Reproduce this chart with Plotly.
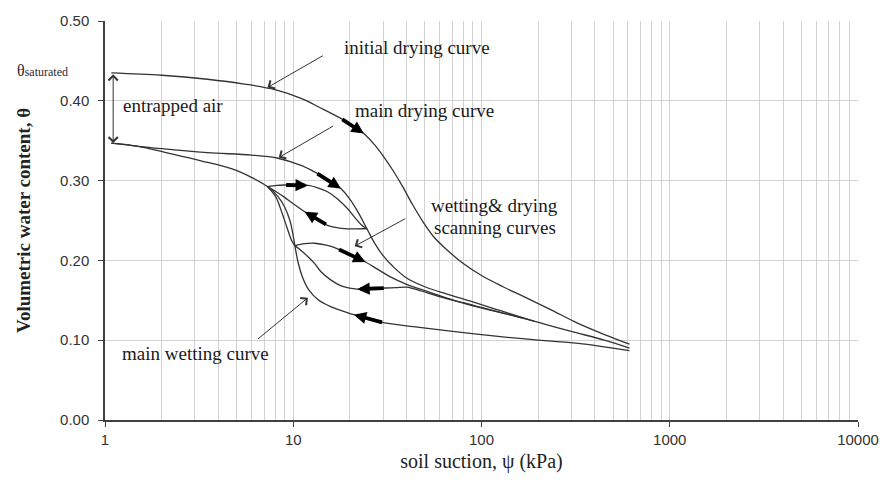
import numpy as np
import plotly.graph_objects as go

# ---------------- data ----------------
x_tickvals = [1, 10, 100, 1000, 10000]
x_ticktext = ["1", "10", "100", "1000", "10000"]
y_tickvals = [0.0, 0.1, 0.2, 0.3, 0.4, 0.5]

initial_drying_x = [1.08, 2, 3.5, 5.5, 8, 11, 14, 17.9, 21, 23.7, 27, 30, 34, 38, 43, 49, 56, 65,
                    80, 100, 130, 170, 230, 326, 450, 611]
initial_drying_y = [0.435, 0.432, 0.427, 0.421, 0.414, 0.403, 0.391, 0.378, 0.368, 0.359, 0.345, 0.331,
                    0.312, 0.293, 0.270, 0.248, 0.229, 0.214, 0.196, 0.181, 0.167, 0.154, 0.139, 0.121,
                    0.107, 0.095]

main_drying_x = [1.08, 2, 3.5, 6, 8.3, 11, 13.2, 15.5, 17.9, 19.8, 21.9, 24.7, 27, 30, 34, 40, 50, 65,
                 90, 130, 190, 300, 450, 611]
main_drying_y = [0.347, 0.340, 0.335, 0.332, 0.328, 0.319, 0.310, 0.301, 0.290, 0.278, 0.262, 0.239,
                 0.222, 0.206, 0.192, 0.178, 0.167, 0.158, 0.148, 0.136, 0.124, 0.111, 0.100, 0.090]

main_wetting_x = [1.08, 1.5, 2.11, 3.2, 4.73, 6, 7.3, 8.3, 9.0, 9.6, 9.9, 10.2, 10.6, 11.2, 12.1,
                  13.5, 15.5, 18, 21, 25, 30, 43.5, 65, 119, 200, 326, 611]
main_wetting_y = [0.347, 0.343, 0.335, 0.325, 0.3146, 0.304, 0.2925, 0.280, 0.267, 0.250, 0.236,
                  0.2185, 0.198, 0.179, 0.163, 0.151, 0.143, 0.137, 0.132, 0.126, 0.122, 0.117, 0.112,
                  0.105, 0.100, 0.096, 0.087]

a_to_b_x = [7.3, 8.1, 8.7, 9.3, 9.8, 10.2]
a_to_b_y = [0.2925, 0.279, 0.260, 0.240, 0.225, 0.2185]

drying_scan_a_x = [7.3, 8.2, 9.0, 10.5, 12, 13.5, 15.2, 17.2, 19.4, 21.2, 22.9, 24.7]
drying_scan_a_y = [0.2925, 0.294, 0.2945, 0.2945, 0.294, 0.291, 0.286, 0.277, 0.265, 0.254, 0.245,
                   0.239]

wetting_scan_a_x = [7.3, 8.0, 9.0, 10, 11.5, 13.2, 15.2, 17, 19.4, 21.5, 24.5]
wetting_scan_a_y = [0.2925, 0.287, 0.279, 0.271, 0.261, 0.252, 0.244, 0.241, 0.2395, 0.2395, 0.240]

drying_scan_b_x = [10.2, 11.5, 13, 15, 17.2, 20, 24.2, 28, 33, 40, 50, 65, 90, 130, 190]
drying_scan_b_y = [0.2185, 0.221, 0.2215, 0.219, 0.2145, 0.207, 0.198, 0.189, 0.179, 0.170, 0.162,
                   0.153, 0.143, 0.134, 0.124]

wetting_scan_b_x = [10.2, 11, 11.8, 13, 14, 15.8, 18.5, 21.9, 26, 30.8, 35, 40, 43, 52, 65, 80, 100,
                    130, 164]
wetting_scan_b_y = [0.2185, 0.2124, 0.206, 0.196, 0.186, 0.1756, 0.167, 0.164, 0.1645, 0.1654, 0.1658,
                    0.1665, 0.165, 0.159, 0.152, 0.147, 0.141, 0.134, 0.128]

curves = {
    "initial_drying": (initial_drying_x, initial_drying_y),
    "main_drying": (main_drying_x, main_drying_y),
    "main_wetting": (main_wetting_x, main_wetting_y),
    "a_to_b": (a_to_b_x, a_to_b_y),
    "drying_scan_a": (drying_scan_a_x, drying_scan_a_y),
    "wetting_scan_a": (wetting_scan_a_x, wetting_scan_a_y),
    "drying_scan_b": (drying_scan_b_x, drying_scan_b_y),
    "wetting_scan_b": (wetting_scan_b_x, wetting_scan_b_y),
}

# direction arrows along curves: (curve, suction at tail, suction at head)
direction_arrows = [
    ("initial_drying", 17.9, 23.7),
    ("main_drying", 13.2, 17.9),
    ("drying_scan_a", 9.0, 11.96),
    ("wetting_scan_a", 15.2, 11.5),
    ("drying_scan_b", 17.2, 24.2),
    ("wetting_scan_b", 30.8, 21.9),
    ("main_wetting", 30.2, 21.0),
]

# ---------------- figure ----------------
SERIF = "Liberation Serif"
SANS = "Liberation Sans"
GRID = "#d2d2d2"
AXIS = "#404040"

fig = go.Figure()
for name, (cx, cy) in curves.items():
    fig.add_trace(go.Scatter(
        x=cx, y=cy, mode="lines", name=name, showlegend=False, hoverinfo="skip",
        line=dict(color="#333333", width=1.3, shape="spline", smoothing=1.0),
    ))


def on_curve(name, s):
    cx, cy = curves[name]
    return float(np.interp(np.log10(s), np.log10(cx), cy))


for name, s_tail, s_head in direction_arrows:
    fig.add_annotation(
        x=np.log10(s_head), y=on_curve(name, s_head),
        ax=np.log10(s_tail), ay=on_curve(name, s_tail),
        xref="x", yref="y", axref="x", ayref="y", text="",
        showarrow=True, arrowhead=2, arrowsize=0.65, arrowwidth=3.8,
        arrowcolor="black", standoff=0,
    )

# thin pointer arrows (head, tail) in data units
pointers = [
    ((7.30, 0.4167), (14.6, 0.4575)),
    ((8.37, 0.3288), (16.6, 0.3695)),
    ((21.2, 0.2178), (40.1, 0.2533)),
    ((11.96, 0.1532), (6.37, 0.0999)),
]
for (hx, hy), (tx, ty) in pointers:
    fig.add_annotation(
        x=np.log10(hx), y=hy, ax=np.log10(tx), ay=ty,
        xref="x", yref="y", axref="x", ayref="y", text="",
        showarrow=True, arrowhead=4, arrowsize=1.8, arrowwidth=1,
        arrowcolor="#333", standoff=0,
    )

# entrapped-air double arrow
fig.add_annotation(
    x=np.log10(1.105), y=0.347, ax=np.log10(1.105), ay=0.435,
    xref="x", yref="y", axref="x", ayref="y", text="",
    showarrow=True, arrowhead=4, startarrowhead=4, arrowside="end+start",
    arrowsize=1.8, startarrowsize=1.8, arrowwidth=1, arrowcolor="#333", standoff=0, startstandoff=0,
)

labels = [
    ("initial drying curve", 45.3, 0.467, "center"),
    ("entrapped air", 1.21, 0.3946, "left"),
    ("main drying curve", 20.8, 0.3873, "left"),
    ("wetting&amp; drying", 117.8, 0.2687, "center"),
    ("scanning curves", 117.8, 0.2418, "center"),
    ("main wetting curve", 1.2, 0.0833, "left"),
]
for txt, lx, ly, anchor in labels:
    fig.add_annotation(
        x=np.log10(lx), y=ly, xref="x", yref="y", text=txt, showarrow=False,
        xanchor=anchor, yanchor="middle",
        font=dict(family=SERIF, size=19, color="#1a1a1a"),
    )

fig.add_annotation(
    x=-0.12, y=0.4375, xref="paper", yref="y", xanchor="left", yanchor="middle",
    text="θ<span style='font-size:12px'>saturated</span>", showarrow=False,
    font=dict(family=SERIF, size=16, color="#2a2a2a"),
)

minor_vals = [m * 10 ** k for k in range(4) for m in range(2, 10)]

fig.update_layout(
    width=891, height=489,
    margin=dict(l=105, r=25, t=12, b=69),
    paper_bgcolor="white", plot_bgcolor="white",
    xaxis=dict(
        type="log", range=[0, 4],
        tickvals=x_tickvals, ticktext=x_ticktext,
        showgrid=True, gridcolor=GRID, gridwidth=1.4,
        showline=True, linecolor=AXIS, linewidth=1.5,
        ticks="outside", ticklen=5, tickcolor=AXIS,
        tickfont=dict(family=SANS, size=15, color="#333"),
        minor=dict(tickvals=minor_vals, showgrid=True, gridcolor=GRID, gridwidth=1.4, ticks=""),
        zeroline=False,
        title=dict(text="soil suction, ψ (kPa)", standoff=7,
                   font=dict(family=SERIF, size=20, color="#222")),
    ),
    yaxis=dict(
        range=[0, 0.5], tickvals=y_tickvals, tickformat=".2f",
        showgrid=True, gridcolor=GRID, gridwidth=1.4,
        showline=True, linecolor=AXIS, linewidth=1.5,
        ticks="outside", ticklen=5, tickcolor=AXIS, ticklabelstandoff=6,
        tickfont=dict(family=SANS, size=15, color="#333"),
        zeroline=False,
        title=dict(text="<b>Volumetric water content, θ</b>", standoff=24,
                   font=dict(family=SERIF, size=19, color="#222")),
    ),
)

fig.write_html("out.html")
